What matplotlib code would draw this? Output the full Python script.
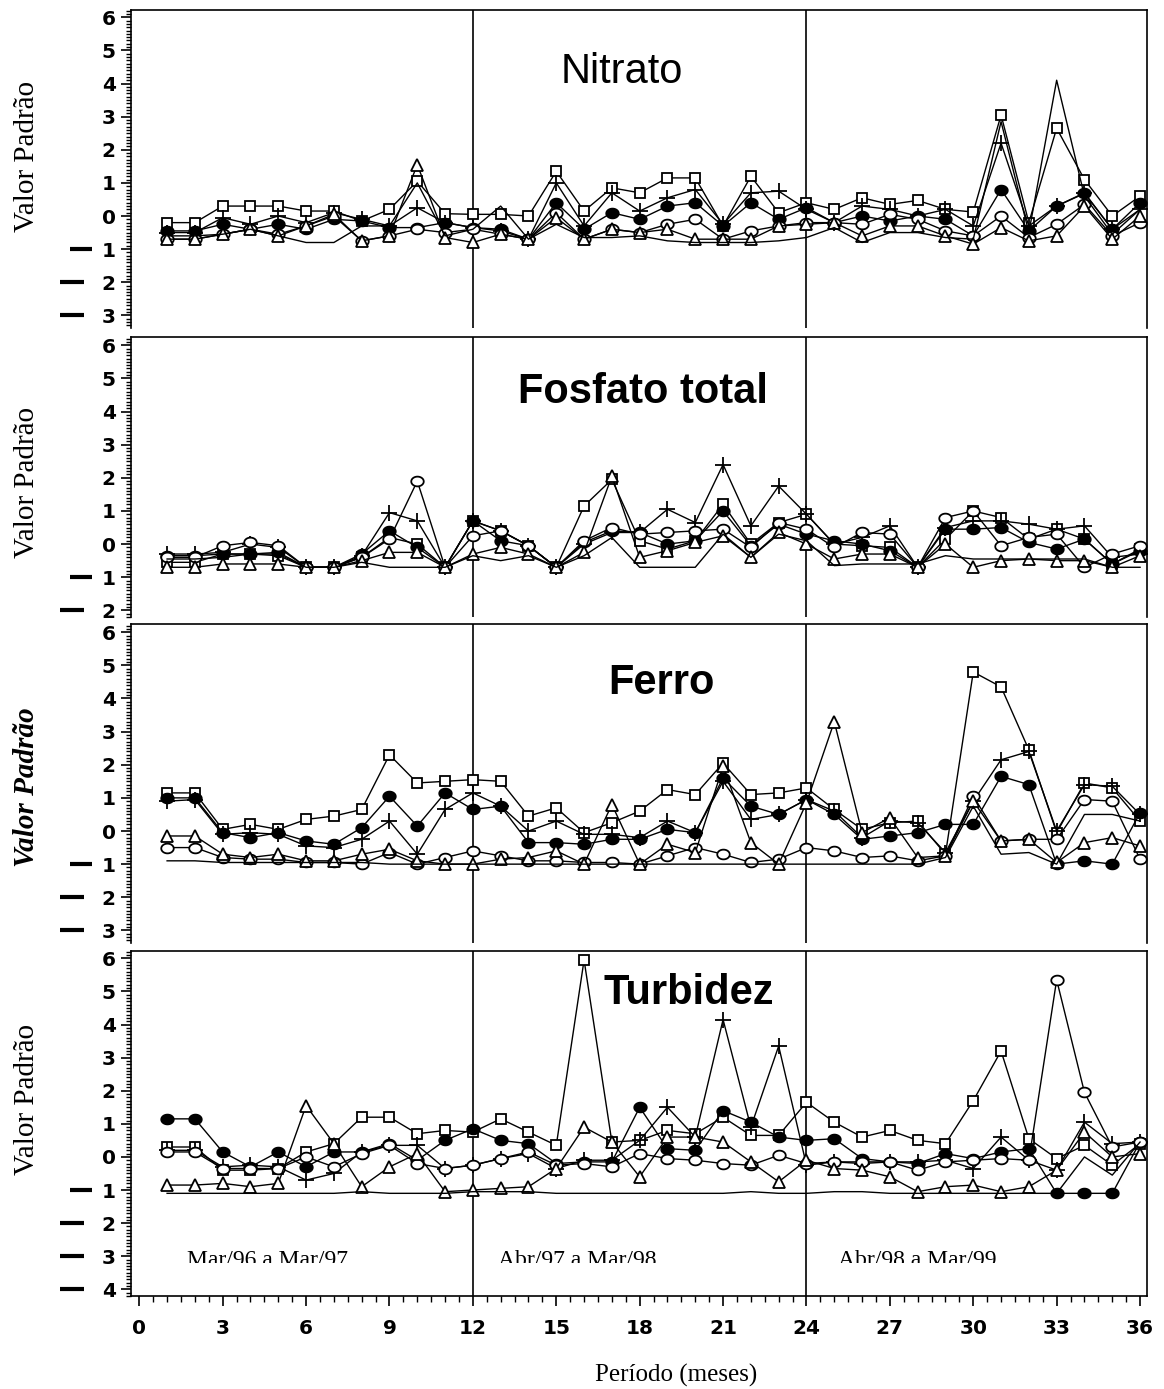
import numpy as np
import matplotlib
matplotlib.use('Agg')
import matplotlib.pyplot as plt
from matplotlib.path import Path
from matplotlib.markers import MarkerStyle
from matplotlib.ticker import MultipleLocator, FuncFormatter
from matplotlib.transforms import blended_transform_factory, Bbox, TransformedBbox

meses = np.arange(1, 37)

# Nitrato
nitrato_quadrado = [-0.2, -0.2, 0.3, 0.3, 0.3, 0.15, 0.15, -0.15, 0.2, 1.05, 0.07, 0.05,
                    0.05, 0.0, 1.35, 0.15, 0.85, 0.7, 1.15, 1.15, -0.3, 1.2, 0.1, 0.4,
                    0.2, 0.55, 0.35, 0.47, 0.2, 0.12, 3.05, -0.2, 2.65, 1.1, 0.0, 0.6]
nitrato_mais = [-0.5, -0.5, -0.05, -0.25, 0.0, -0.2, 0.1, -0.1, -0.3, 0.25, -0.2, -0.35,
                -0.45, -0.7, 1.0, -0.3, 0.7, 0.15, 0.55, 0.8, -0.25, 0.7, 0.75, 0.2,
                -0.2, 0.3, 0.2, 0.0, 0.2, -0.3, 2.2, -0.3, 0.3, 0.7, -0.4, 0.2]
nitrato_cheio = [-0.45, -0.45, -0.25, -0.4, -0.25, -0.4, -0.1, -0.15, -0.35, -0.35, -0.2, -0.35,
                 -0.4, -0.7, 0.4, -0.4, 0.1, -0.1, 0.3, 0.4, -0.3, 0.4, -0.1, 0.25,
                 -0.2, 0.0, -0.15, 0.0, -0.1, -0.6, 0.8, -0.45, 0.3, 0.68, -0.4, 0.4]
nitrato_aberto = [-0.7, -0.7, -0.55, -0.4, -0.55, -0.3, 0.0, -0.75, -0.6, -0.4, -0.5, -0.4,
                  -0.55, -0.7, 0.1, -0.7, -0.4, -0.5, -0.25, -0.1, -0.7, -0.45, -0.3, -0.2,
                  -0.2, -0.25, 0.05, -0.1, -0.45, -0.6, 0.0, -0.65, -0.25, 0.35, -0.6, -0.2]
nitrato_triangulo = [-0.7, -0.7, -0.55, -0.4, -0.6, -0.3, 0.05, -0.75, -0.6, 1.55, -0.65, -0.8,
                     -0.55, -0.7, -0.05, -0.7, -0.4, -0.5, -0.4, -0.7, -0.7, -0.7, -0.3, -0.25,
                     -0.2, -0.6, -0.3, -0.3, -0.6, -0.85, -0.35, -0.75, -0.6, 0.3, -0.7, 0.0]
nitrato_linha = [-0.6, -0.6, -0.55, -0.4, -0.6, -0.8, -0.8, -0.3, -0.3, 1.0, -0.6, -0.4,
                 0.3, -0.7, -0.25, -0.65, -0.65, -0.6, -0.75, -0.8, -0.8, -0.8, -0.75, -0.65,
                 -0.35, -0.8, -0.5, -0.5, -0.65, -0.7, 2.85, -0.5, 4.1, 0.6, -0.55, 0.2]

# Fosfato total
fosfato_quadrado = [-0.55, -0.55, -0.3, -0.3, -0.35, -0.7, -0.7, -0.4, 0.2, 0.0, -0.7, 0.7,
                    0.4, -0.05, -0.7, 1.15, 1.95, 0.1, -0.15, 0.1, 1.2, 0.0, 0.65, 0.9,
                    0.0, -0.05, -0.1, -0.7, 0.15, 1.0, 0.8, 0.15, 0.45, 0.15, -0.6, -0.15]
fosfato_mais = [-0.3, -0.3, -0.25, 0.0, -0.1, -0.7, -0.7, -0.35, 0.95, 0.7, -0.7, 0.7,
                0.4, -0.05, -0.7, 0.0, 0.35, 0.35, 1.05, 0.65, 2.4, 0.55, 1.75, 0.9,
                0.0, 0.2, 0.55, -0.7, 0.5, 0.7, 0.7, 0.6, 0.45, 0.55, -0.4, -0.3]
fosfato_cheio = [-0.35, -0.35, -0.3, -0.3, -0.25, -0.7, -0.7, -0.3, 0.4, -0.1, -0.7, 0.7,
                 0.1, -0.05, -0.7, 0.05, 0.4, 0.35, 0.0, 0.1, 1.0, -0.05, 0.6, 0.3,
                 0.1, 0.0, -0.2, -0.7, 0.45, 0.45, 0.5, 0.05, -0.15, 0.15, -0.6, -0.2]
fosfato_aberto = [-0.4, -0.4, -0.05, 0.05, -0.05, -0.7, -0.7, -0.4, 0.15, 1.9, -0.7, 0.25,
                  0.4, -0.05, -0.7, 0.1, 0.5, 0.3, 0.35, 0.4, 0.45, -0.1, 0.65, 0.45,
                  -0.1, 0.35, 0.3, -0.7, 0.8, 1.0, -0.05, 0.2, 0.3, -0.7, -0.3, -0.05]
fosfato_triangulo = [-0.7, -0.7, -0.6, -0.6, -0.6, -0.7, -0.7, -0.5, -0.25, -0.25, -0.7, -0.3,
                     -0.1, -0.3, -0.7, -0.25, 2.05, -0.4, -0.2, 0.05, 0.25, -0.4, 0.35, 0.0,
                     -0.45, -0.3, -0.3, -0.7, 0.0, -0.7, -0.5, -0.45, -0.5, -0.5, -0.7, -0.35]
fosfato_linha = [-0.45, -0.45, -0.4, -0.3, -0.3, -0.7, -0.7, -0.55, -0.7, -0.7, -0.7, -0.35,
                 -0.5, -0.35, -0.7, -0.35, 0.2, -0.7, -0.7, -0.7, 0.3, -0.4, 0.3, 0.1,
                 -0.65, -0.6, -0.6, -0.6, -0.35, -0.45, -0.45, -0.45, -0.45, -0.45, -0.7, -0.7]

# Ferro
ferro_quadrado = [1.15, 1.15, 0.05, 0.2, 0.05, 0.35, 0.45, 0.65, 2.3, 1.45, 1.5, 1.55,
                  1.5, 0.45, 0.7, -0.05, 0.25, 0.6, 1.25, 1.1, 2.05, 1.1, 1.15, 1.3,
                  0.65, 0.05, 0.25, 0.3, -0.7, 4.8, 4.35, 2.45, -0.05, 1.45, 1.3, 0.3]
ferro_mais = [0.9, 0.95, -0.1, -0.05, -0.1, -0.45, -0.5, -0.25, 0.3, -0.7, 0.65, 1.15,
              0.75, 0.0, 0.3, -0.1, -0.1, -0.2, 0.3, -0.05, 1.5, 0.35, 0.5, 0.95,
              0.6, -0.2, 0.3, 0.25, -0.65, 0.9, 2.15, 2.4, 0.0, 1.4, 1.35, 0.5]
ferro_cheio = [1.0, 1.0, -0.05, -0.2, -0.05, -0.3, -0.4, 0.1, 1.05, 0.15, 1.15, 0.65,
               0.75, -0.35, -0.35, -0.4, -0.25, -0.25, 0.05, -0.05, 1.6, 0.75, 0.5, 0.95,
               0.5, -0.25, -0.15, -0.05, 0.2, 0.2, 1.65, 1.4, -1.0, -0.9, -1.0, 0.55]
ferro_aberto = [-0.5, -0.5, -0.8, -0.85, -0.85, -0.95, -0.95, -1.0, -0.65, -1.0, -0.8, -0.6,
                -0.75, -0.9, -0.9, -0.95, -0.95, -1.0, -0.75, -0.5, -0.7, -0.95, -0.85, -0.5,
                -0.6, -0.8, -0.75, -0.9, -0.75, 1.05, -0.3, -0.25, -0.25, 0.95, 0.9, -0.85]
ferro_triangulo = [-0.15, -0.15, -0.7, -0.8, -0.7, -0.9, -0.9, -0.7, -0.55, -0.9, -1.0, -1.0,
                   -0.85, -0.8, -0.6, -1.0, 0.8, -1.0, -0.4, -0.65, 1.95, -0.35, -1.0, 0.85,
                   3.3, -0.05, 0.4, -0.8, -0.75, 0.9, -0.3, -0.25, -0.95, -0.35, -0.2, -0.45]
ferro_linha = [-0.9, -0.9, -0.95, -0.95, -0.95, -0.95, -0.95, -0.95, -1.0, -1.0, -1.0, -1.0,
               -1.0, -1.0, -1.0, -1.0, -1.0, -1.0, -1.0, -1.0, -1.0, -1.0, -1.0, -1.0,
               -1.0, -1.0, -1.0, -1.0, -0.8, 0.75, -0.7, -0.65, -1.0, 0.5, 0.5, 0.3]

# Turbidez
turbidez_quadrado = [0.3, 0.3, -0.4, -0.4, -0.35, 0.15, 0.4, 1.2, 1.2, 0.7, 0.8, 0.75,
                     1.15, 0.75, 0.35, 5.95, 0.45, 0.5, 0.8, 0.7, 1.2, 0.65, 0.65, 1.65,
                     1.05, 0.6, 0.8, 0.5, 0.4, 1.7, 3.2, 0.55, -0.05, 0.35, -0.25, 0.4]
turbidez_mais = [0.2, 0.2, -0.3, -0.25, -0.3, -0.7, -0.5, 0.15, 0.35, 0.35, -0.35, -0.25,
                 -0.05, 0.1, -0.35, -0.1, -0.1, 0.5, 1.5, 0.6, 4.15, 0.9, 3.35, -0.25,
                 -0.15, -0.2, -0.15, -0.15, -0.1, -0.35, 0.6, -0.1, -0.4, 1.05, 0.4, 0.45]
turbidez_cheio = [1.15, 1.15, 0.15, -0.3, 0.15, -0.3, 0.15, 0.15, 0.4, -0.1, 0.5, 0.85,
                  0.5, 0.4, -0.2, -0.15, -0.15, 1.5, 0.25, 0.2, 1.4, 1.05, 0.6, 0.5,
                  0.55, -0.05, -0.15, -0.2, 0.1, -0.05, 0.15, 0.25, -1.1, -1.1, -1.1, 0.45]
turbidez_aberto = [0.15, 0.15, -0.35, -0.35, -0.35, 0.0, -0.3, 0.1, 0.35, -0.2, -0.35, -0.25,
                   -0.05, 0.15, -0.25, -0.2, -0.3, 0.1, -0.05, -0.1, -0.2, -0.25, 0.05, -0.2,
                   -0.15, -0.15, -0.15, -0.4, -0.15, -0.1, -0.05, -0.1, 5.35, 1.95, 0.3, 0.45]
turbidez_triangulo = [-0.85, -0.85, -0.8, -0.9, -0.8, 1.55, 0.4, -0.9, -0.3, 0.1, -1.05, -1.0,
                      -0.95, -0.9, -0.35, 0.9, 0.45, -0.6, 0.6, 0.6, 0.45, -0.15, -0.75, -0.1,
                      -0.35, -0.4, -0.6, -1.05, -0.9, -0.85, -1.05, -0.9, -0.4, 0.75, 0.0, 0.1]
turbidez_linha = [-1.1, -1.1, -1.1, -1.1, -1.1, -1.1, -1.1, -1.05, -1.1, -1.1, -1.1, -1.05,
                  -1.05, -1.05, -1.1, -1.1, -1.1, -1.1, -1.1, -1.1, -1.1, -1.05, -1.1, -1.1,
                  -1.05, -1.05, -1.1, -1.1, -1.1, -1.1, -1.1, -1.1, -1.1, 0.0, -0.55, 0.45]

titulos = ["Nitrato", "Fosfato total", "Ferro", "Turbidez"]
periodos = ["Mar/96 a Mar/97", "Abr/97 a Mar/98", "Abr/98 a Mar/99"]
periodo_inicio = [1.7, 12.9, 25.15]

paineis = [
    [nitrato_quadrado, nitrato_mais, nitrato_cheio, nitrato_aberto, nitrato_triangulo, nitrato_linha],
    [fosfato_quadrado, fosfato_mais, fosfato_cheio, fosfato_aberto, fosfato_triangulo, fosfato_linha],
    [ferro_quadrado, ferro_mais, ferro_cheio, ferro_aberto, ferro_triangulo, ferro_linha],
    [turbidez_quadrado, turbidez_mais, turbidez_cheio, turbidez_aberto, turbidez_triangulo, turbidez_linha],
]

# axes boxes in figure fraction: left, bottom, width, height
caixas = [
    (0.1125, 0.7639, 0.8729, 0.2289),
    (0.1125, 0.5558, 0.8729, 0.2016),
    (0.1125, 0.3211, 0.8729, 0.2297),
    (0.1125, 0.0670, 0.8729, 0.2483),
]
limites_y = [(-3.38, 6.22), (-2.2, 6.25), (-3.38, 6.25), (-4.2, 6.22)]
titulo_pos = [(17.37, 4.36), (18.13, 4.58), (18.78, 4.48), (19.78, 4.94)]
ylabel_y = [0.538, 0.479, 0.489, 0.571]

# slightly flattened circle used for the round markers
t = np.linspace(0, 2 * np.pi, 41)
elipse = MarkerStyle(Path(np.column_stack([np.cos(t), 0.78 * np.sin(t)]), closed=True))

estilos = [
    dict(marker='s', ms=7.5, mfc='white'),
    dict(marker='+', ms=11, mew=1.3),
    dict(marker=elipse, ms=9, mfc='black'),
    dict(marker=elipse, ms=9, mfc='white'),
    dict(marker='^', ms=8.5, mfc='white'),
    dict(marker=None),
]

tick_font = dict(family='DejaVu Sans', weight='bold', size=14.5)

fig = plt.figure(figsize=(11.64, 13.89), dpi=100)

for i, series in enumerate(paineis):
    ax = fig.add_axes(caixas[i])
    ymin, ymax = limites_y[i]
    ax.set_xlim(-0.3, 36.25)
    ax.set_ylim(ymin, ymax)

    for x in (12, 24):
        ax.axvline(x, color='black', lw=1.2, zorder=1)

    for valores, est in zip(series, estilos):
        ax.plot(meses, valores, color='black', lw=1.0, mec='black', mew=1.3,
                zorder=3, clip_on=False, **{k: v for k, v in est.items() if k != 'mew'})

    for s in ['top', 'left', 'right', 'bottom']:
        ax.spines[s].set_linewidth(1.2)

    ax.yaxis.set_major_locator(MultipleLocator(1))
    ax.yaxis.set_minor_locator(MultipleLocator(0.1))
    ax.yaxis.set_major_formatter(FuncFormatter(lambda v, p: str(abs(int(round(v))))))
    ax.tick_params(axis='y', which='major', length=7, width=1.2, pad=4)
    ax.tick_params(axis='y', which='minor', length=3.5, width=1.0)
    for lab in ax.get_yticklabels():
        lab.set(**tick_font)

    # dashes standing for the minus sign on the negative ticks
    trans = blended_transform_factory(ax.transAxes, ax.transData)
    for v in range(-1, int(np.ceil(ymin)) - 1, -1):
        x0, x1 = (-0.060, -0.038) if v == -1 else (-0.070, -0.046)
        ax.plot([x0, x1], [v, v], color='black', lw=3.0, solid_capstyle='butt',
                transform=trans, clip_on=False)

    fw = 'bold' if i > 0 else 'normal'
    tx, ty = titulo_pos[i]
    ax.text(tx, ty, titulos[i], ha='center', va='center', fontsize=30,
            fontweight=fw, family='Liberation Sans', zorder=5)

    if i == 2:
        ax.set_ylabel("Valor Padrão", family='Liberation Serif', fontsize=21,
                      fontweight='bold', fontstyle='italic')
    else:
        ax.set_ylabel("Valor Padrão", family='Liberation Serif', fontsize=21)
    ax.yaxis.label.set_va('center')
    ax.yaxis.set_label_coords(-0.1024, ylabel_y[i])

    if i < 3:
        ax.spines['bottom'].set_visible(False)
        ax.tick_params(axis='x', which='both', bottom=False, labelbottom=False)
    else:
        ax.xaxis.set_major_locator(MultipleLocator(3))
        ax.xaxis.set_minor_locator(MultipleLocator(0.5))
        ax.tick_params(axis='x', which='major', length=7.5, width=1.2, pad=9)
        ax.tick_params(axis='x', which='minor', length=4, width=1.0)
        for lab in ax.get_xticklabels():
            lab.set(**tick_font)
        clip = TransformedBbox(Bbox([[-1, -3.2], [37, 7]]), ax.transData)
        for x0, txt in zip(periodo_inicio, periodos):
            tt = ax.text(x0, -3.3, txt, ha='left', va='baseline', fontsize=17,
                         family='Liberation Serif')
            tt.set_clip_box(clip)
            tt.set_clip_on(True)

fig.text(0.581, 0.0101, "Período (meses)", ha='center', va='center',
         fontsize=18, family='Liberation Serif')

fig.savefig('out.png', dpi=100, facecolor='white')
